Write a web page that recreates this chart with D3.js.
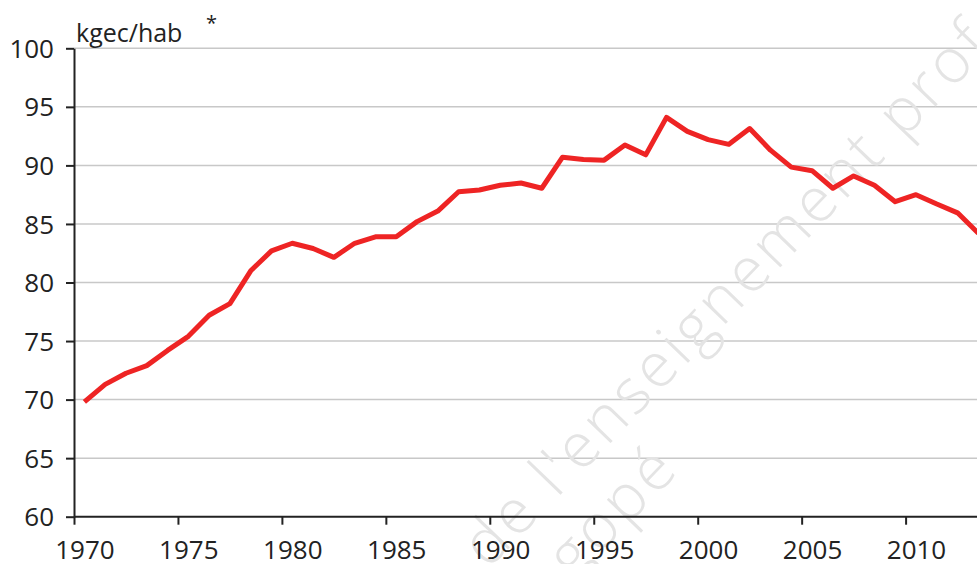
<!DOCTYPE html>
<html>
<head>
<meta charset="utf-8">
<script src="https://cdn.jsdelivr.net/npm/d3@7"></script>
<style>
  body { margin: 0; background: #fff; }
  svg { display: block; }
  .axis text { font-family: "Open Sans", sans-serif; font-size: 26px; fill: #222; }
  .axis path, .axis line { stroke: #222; stroke-width: 2; }
  .grid line { stroke: #c8c8c8; stroke-width: 1.5; }
</style>
</head>
<body>
<svg id="chart"></svg>
<script>
// data (kgec per inhabitant)
const years = d3.range(1970, 2014);
const values = [
  69.8, 71.3, 72.25, 72.9, 74.2, 75.4, 77.2, 78.2, 81.0, 82.7,
  83.35, 82.9, 82.15, 83.35, 83.9, 83.9, 85.2, 86.1, 87.75, 87.9,
  88.3, 88.5, 88.05, 90.7, 90.5, 90.45, 91.75, 90.9, 94.1, 92.9,
  92.2, 91.8, 93.15, 91.3, 89.85, 89.55, 88.05, 89.1, 88.3, 86.9,
  87.5, 86.7, 85.95, 84.2
];
const yTicks = [60, 65, 70, 75, 80, 85, 90, 95, 100];
const xTicks = [1970, 1975, 1980, 1985, 1990, 1995, 2000, 2005, 2010];
const unitLabel = "kgec/hab";
const note = "*";
const watermark1 = "de l'enseignement professionnel";
const watermark2 = "agopé";

const config = {
  width: 977,
  height: 564,
  margin: {top: 48.3, left: 74}
};
const plotH = 516.7 - config.margin.top;

const svg = d3.select('#chart')
    .attr('width', config.width)
    .attr('height', config.height);

const chart = svg.append('g')
    .attr('transform', `translate(${config.margin.left},${config.margin.top})`);

// 20.79 px per year, axis continues past the right edge
const xScale = d3.scaleLinear()
    .domain([1970, 2015])
    .range([0, 45 * 20.79]);

const yScale = d3.scaleLinear()
    .domain([60, 100])
    .range([plotH, 0]);

// gridlines
chart.append('g')
    .attr('class', 'grid')
  .selectAll('line')
  .data(yTicks.filter(d => d > 60))
  .join('line')
    .attr('x1', 0)
    .attr('x2', config.width)
    .attr('y1', d => yScale(d))
    .attr('y2', d => yScale(d));

// watermark
const wm = chart.append('g')
    .attr('fill', '#e4e4e4')
    .style('font-family', '"Open Sans", sans-serif')
    .style('font-weight', 300)
    .style('font-size', '62px')
    .style('letter-spacing', '4px');
wm.append('text')
    .attr('transform', `translate(${488 - config.margin.left},${570 - config.margin.top}) rotate(-46)`)
    .text(watermark1);
wm.append('text')
    .attr('transform', `translate(${548 - config.margin.left},${608 - config.margin.top}) rotate(-46)`)
    .text(watermark2);

// axes
const xAxis = d3.axisBottom(xScale)
    .tickValues(xTicks)
    .tickFormat(d3.format('d'))
    .tickSize(8)
    .tickSizeOuter(0)
    .tickPadding(12);

const yAxis = d3.axisLeft(yScale)
    .tickValues(yTicks)
    .tickSize(8)
    .tickSizeOuter(0)
    .tickPadding(12);

const xAxisG = chart.append('g')
    .attr('class', 'axis x-axis')
    .attr('transform', `translate(0,${plotH})`)
    .call(xAxis);
xAxisG.select('.domain').attr('d', `M0,0H${config.width}`);
// labels sit in the middle of the year, like the category axis of the source
xAxisG.selectAll('.tick text')
    .attr('x', xScale(1970.5) - xScale(1970))
    .attr('dy', '0.85em');

chart.append('g')
    .attr('class', 'axis y-axis')
    .call(yAxis)
  .selectAll('.tick text')
    .attr('dy', '0.35em');

// line
const line = d3.line()
    .x((d, i) => xScale(years[i] + 0.5))
    .y(d => yScale(d));

chart.append('path')
    .datum(values)
    .attr('fill', 'none')
    .attr('stroke', '#ee2424')
    .attr('stroke-width', 5)
    .attr('stroke-linejoin', 'round')
    .attr('d', line);

// unit label
svg.append('text')
    .attr('x', 76)
    .attr('y', 42)
    .style('font-family', '"Open Sans", sans-serif')
    .style('font-size', '25px')
    .attr('fill', '#222')
    .text(unitLabel);
svg.append('text')
    .attr('x', 206)
    .attr('y', 30)
    .style('font-family', '"Open Sans", sans-serif')
    .style('font-size', '20px')
    .attr('fill', '#222')
    .text(note);
</script>
</body>
</html>
